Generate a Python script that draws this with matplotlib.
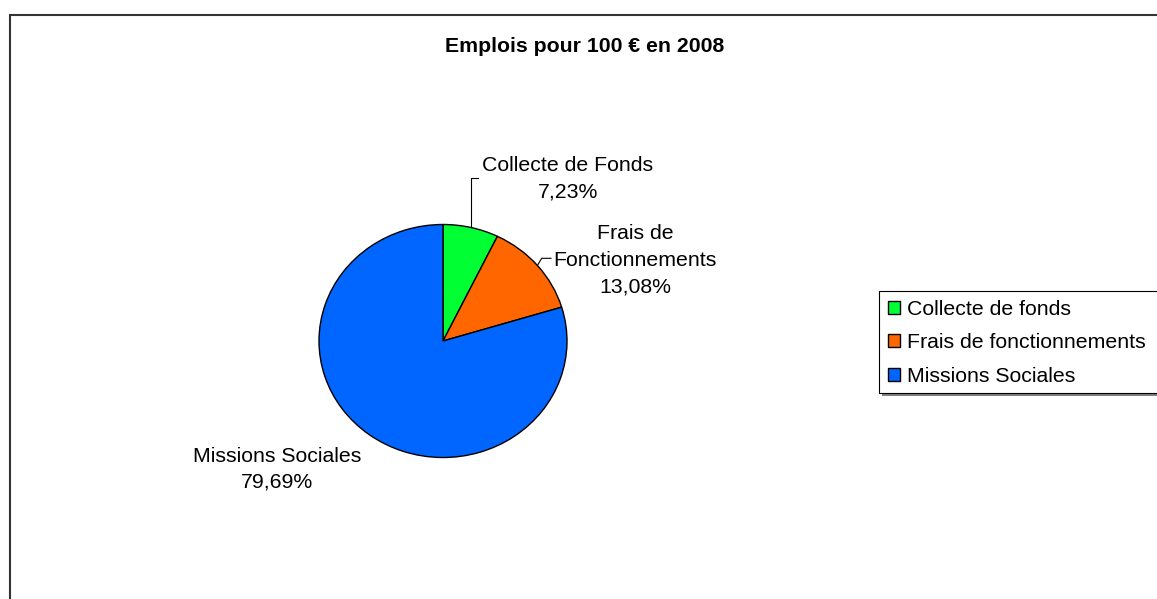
import matplotlib
matplotlib.use("Agg")
import matplotlib.pyplot as plt
import numpy as np
from matplotlib.patches import Rectangle
from matplotlib.lines import Line2D

# ---- data ----
title = "Emplois pour 100 € en 2008"
legend_labels = ["Collecte de fonds", "Frais de fonctionnements", "Missions Sociales"]
slice_labels = ["Collecte de Fonds", "Frais de\nFonctionnements", "Missions Sociales"]
values = [7.23, 13.08, 79.69]
colors = ["#00FF33", "#FF6600", "#0066FF"]

W, H = 1157, 599
FS = 15.3  # pt at dpi 100 (~21px)
plt.rcParams['font.family'] = ['Liberation Sans', 'DejaVu Sans']

fig = plt.figure(figsize=(W / 100, H / 100), dpi=100)
fig.patch.set_facecolor('white')

def fx(x):
    return x / W

def fy(y):
    return 1 - y / H

# outer border of the chart area
fig.patches.append(Rectangle((fx(10), fy(700)), fx(1300), fy(15) - fy(700),
                             transform=fig.transFigure, fill=False,
                             edgecolor='#333333', linewidth=1.5, clip_on=False))

# pie axes (slightly elliptical like the original)
cx, cy, rx, ry = 443, 341, 124, 116.5
ax = fig.add_axes([fx(cx - rx), fy(cy + ry), (2 * rx) / W, (2 * ry) / H])
wedges, _ = ax.pie(values, colors=colors, startangle=90, counterclock=False,
                   radius=1, wedgeprops=dict(edgecolor='black', linewidth=1.0,
                                             clip_on=False))
ax.set_aspect('auto')
ax.set_xlim(-1, 1)
ax.set_ylim(-1, 1)
ax.axis('off')

def to_ax(px, py):
    return ((px - cx) / rx, (cy - py) / ry)

# mid angles of wedges
total = sum(values)
angles = []
start = 90.0
for v in values:
    span = 360.0 * v / total
    angles.append(np.deg2rad(start - span / 2))
    start -= span

# slice labels
def pct(v):
    return f"{v:.2f}".replace('.', ',') + '%'

label_pos = [(568, 197.5), (635, 292.7), (277, 487)]
label_ls = [1.52, 1.52, 1.42]
for lab, v, (lx, ly), ls in zip(slice_labels, values, label_pos, label_ls):
    fig.text(fx(lx), fy(ly), lab + "\n" + pct(v), ha='center', va='baseline',
             multialignment='center', fontsize=FS, linespacing=ls, color='black')

# leader lines (vertical elbow for the first, slanted for the second)
elbows = [[(None, 178), (478, 178)], [(541.7, 258.3), (551, 258.3)], None]
for ang, el in zip(angles, elbows):
    if el is None:
        continue
    x0, y0 = np.cos(ang), np.sin(ang)
    (e1x, e1y), (e2x, e2y) = el
    p1y = to_ax(0, e1y)[1]
    p1x = x0 if e1x is None else to_ax(e1x, 0)[0]
    p2 = to_ax(e2x, e2y)
    ax.add_line(Line2D([x0, p1x, p2[0]], [y0, p1y, p2[1]], color='black',
                       linewidth=0.8, clip_on=False))

# title
fig.text(fx(585), fy(51.7), title, ha='center', va='baseline', fontsize=FS,
         fontweight='bold')

# legend frame with shadow
lx0, ly0, ly1 = 879, 291, 393
fig.patches.append(Rectangle((fx(lx0 + 3), fy(ly1 + 2.5)), fx(400), fy(ly0 + 3) - fy(ly1 + 2.5),
                             transform=fig.transFigure, facecolor='#808080',
                             edgecolor='none', clip_on=False))
fig.patches.append(Rectangle((fx(lx0), fy(ly1)), fx(400), fy(ly0) - fy(ly1),
                             transform=fig.transFigure, facecolor='white',
                             edgecolor='black', linewidth=0.8, clip_on=False))

leg = fig.legend(wedges, legend_labels, loc='upper left',
                 bbox_to_anchor=(fx(888), fy(300)), frameon=False,
                 borderpad=0, borderaxespad=0, handlelength=0.57,
                 handleheight=0.57, handletextpad=0.33, labelspacing=0.68,
                 fontsize=FS)

fig.savefig("out.png", dpi=100, facecolor='white')
